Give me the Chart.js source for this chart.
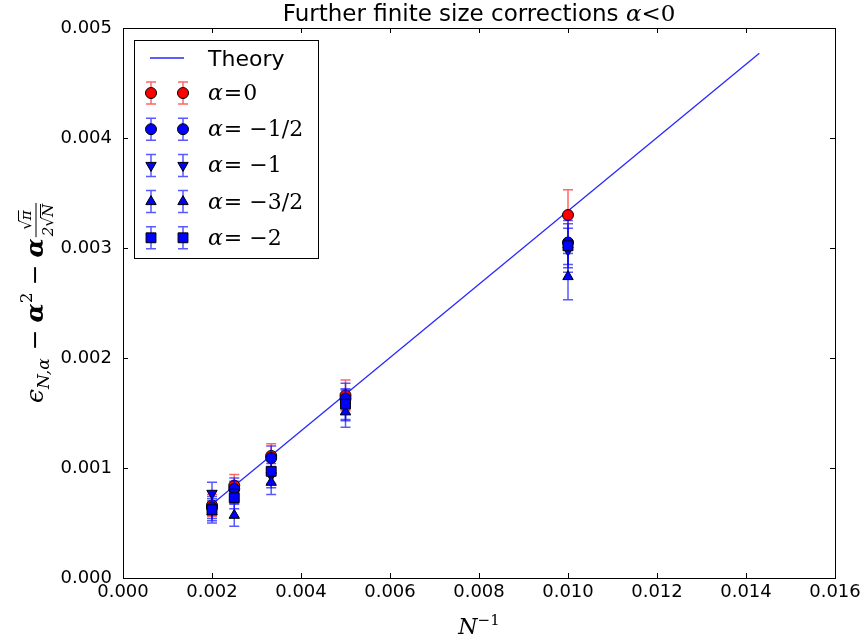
<!DOCTYPE html>
<html>
<head>
<meta charset="utf-8">
<script src="https://cdn.jsdelivr.net/npm/chart.js@4/dist/chart.umd.min.js"></script>
<style>
  html, body { margin: 0; background: #fff; }
  #wrap { width: 861px; height: 643px; }
</style>
</head>
<body>
<div id="wrap"><canvas id="chart"></canvas></div>
<script>
// inverse system size
const invN = [0.002, 0.0025, 0.00333, 0.005, 0.010];

// corrected energies and their error bars, one pair per alpha
const alpha0 = [0.00066, 0.00084, 0.00111, 0.00166, 0.00330];
const err0 = [0.00010, 0.00010, 0.00011, 0.00014, 0.00023];
const alphaHalf = [0.00064, 0.00081, 0.00109, 0.00163, 0.00305];
const errHalf = [0.00010, 0.00010, 0.00011, 0.00014, 0.00020];
const alphaOne = [0.00077, 0.00078, 0.00093, 0.00157, 0.00298];
const errOne = [0.00010, 0.00010, 0.00011, 0.00014, 0.00020];
const alphaThreeHalf = [0.00060, 0.00057, 0.00087, 0.00151, 0.00274];
const errThreeHalf = [0.00010, 0.00010, 0.00011, 0.00014, 0.00021];
const alphaTwo = [0.00062, 0.00073, 0.00097, 0.00158, 0.00302];
const errTwo = [0.00010, 0.00010, 0.00011, 0.00014, 0.00020];

// straight-line prediction
const theoryX = [0.002, 0.0143];
const theoryY = [0.00067, 0.00477];

const xTicks = [0, 0.002, 0.004, 0.006, 0.008, 0.010, 0.012, 0.014, 0.016];
const yTicks = [0, 0.001, 0.002, 0.003, 0.004, 0.005];

const RED = '#ff0000';
const BLUE = '#0000ff';
const SANS = "'DejaVu Sans'";
const SERIF = "'DejaVu Serif'";

function pts(ys) {
    return invN.map((x, i) => ({x: x, y: ys[i]}));
}

function markerRadius(style) {
    return style === 'rect' ? 7 : (style === 'triangle' ? 6 : 5.5);
}

function series(label, ys, errs, color, barColor, style, rotation, order) {
    return {
        label: label,
        data: pts(ys),
        errors: errs,
        errorColor: barColor,
        backgroundColor: color,
        borderColor: '#000',
        borderWidth: 1,
        pointStyle: style,
        pointRotation: rotation,
        pointRadius: markerRadius(style),
        pointHoverRadius: markerRadius(style),
        showLine: false,
        order: order
    };
}

const datasets = [
    {
        label: 'Theory',
        type: 'line',
        data: theoryX.map((x, i) => ({x: x, y: theoryY[i]})),
        borderColor: 'rgb(40,40,255)',
        borderWidth: 1.3,
        pointRadius: 0,
        fill: false,
        order: 10
    },
    series('α=0', alpha0, err0, RED, 'rgba(255,0,0,0.6)', 'circle', 0, 5),
    series('α=−1/2', alphaHalf, errHalf, BLUE, 'rgba(0,0,255,0.65)', 'circle', 0, 4),
    series('α=−1', alphaOne, errOne, BLUE, 'rgba(0,0,255,0.65)', 'triangle', 180, 3),
    series('α=−3/2', alphaThreeHalf, errThreeHalf, BLUE, 'rgba(0,0,255,0.65)', 'triangle', 0, 2),
    series('α=−2', alphaTwo, errTwo, BLUE, 'rgba(0,0,255,0.65)', 'rect', 0, 1)
];

// vertical error bars with caps, drawn under each series' markers
const errorBars = {
    id: 'errorBars',
    beforeDatasetDraw(chart, args) {
        const ds = chart.data.datasets[args.index];
        if (!ds.errors) return;
        const {ctx, scales: {x, y}} = chart;
        ctx.save();
        ctx.strokeStyle = ds.errorColor;
        ctx.lineWidth = 1.5;
        ds.data.forEach((p, i) => {
            const px = x.getPixelForValue(p.x);
            const top = y.getPixelForValue(p.y + ds.errors[i]);
            const bot = y.getPixelForValue(p.y - ds.errors[i]);
            ctx.beginPath();
            ctx.moveTo(px, top); ctx.lineTo(px, bot);
            ctx.moveTo(px - 5, top); ctx.lineTo(px + 5, top);
            ctx.moveTo(px - 5, bot); ctx.lineTo(px + 5, bot);
            ctx.stroke();
        });
        ctx.restore();
    }
};

// lay out a run of text pieces (plain, sub/superscript, fraction) centred on cx
function drawRun(ctx, pieces, cx, base) {
    let total = 0;
    pieces.forEach(p => {
        ctx.font = p.font;
        if (p.frac) {
            p.w = Math.max(ctx.measureText(p.num).width, ctx.measureText(p.den).width) + 2;
        } else {
            p.w = ctx.measureText(p.t).width;
        }
        total += p.w + (p.gap || 0);
    });
    let x = cx - total / 2;
    ctx.textBaseline = 'alphabetic';
    ctx.textAlign = 'left';
    pieces.forEach(p => {
        ctx.font = p.font;
        if (p.frac) {
            const mid = x + p.w / 2;
            const nw = ctx.measureText(p.num).width;
            const dw = ctx.measureText(p.den).width;
            ctx.fillText(p.num, mid - nw / 2, base - 12);
            ctx.fillText(p.den, mid - dw / 2, base + 10);
            ctx.fillRect(x, base - 7.5, p.w, 1);
            // radical overbars
            const rn = ctx.measureText('√').width;
            const nx = mid - nw / 2;
            ctx.fillRect(nx + rn - 1, base - 25, nw - rn + 1, 1);
            const two = ctx.measureText('2').width;
            const dx = mid - dw / 2 + two;
            ctx.fillRect(dx + rn - 1, base - 3, dw - two - rn + 1, 1);
        } else {
            ctx.fillText(p.t, x, base + (p.dy || 0));
        }
        x += p.w + (p.gap || 0);
    });
}

function drawMarker(ctx, style, rotation, color, barColor, x, y) {
    ctx.strokeStyle = barColor;
    ctx.lineWidth = 1.5;
    ctx.beginPath();
    ctx.moveTo(x, y - 11); ctx.lineTo(x, y + 11);
    ctx.moveTo(x - 5, y - 11); ctx.lineTo(x + 5, y - 11);
    ctx.moveTo(x - 5, y + 11); ctx.lineTo(x + 5, y + 11);
    ctx.stroke();
    ctx.fillStyle = color;
    ctx.strokeStyle = '#000';
    ctx.lineWidth = 1;
    Chart.helpers.drawPoint(ctx, {
        pointStyle: style, rotation: rotation,
        radius: markerRadius(style), borderWidth: 1
    }, x, y);
}

const decorations = {
    id: 'decorations',
    afterDatasetsDraw(chart) {
        const {ctx, chartArea: a, scales: {x, y}} = chart;
        ctx.save();
        // axes frame with inward ticks on all four sides
        ctx.strokeStyle = '#000';
        ctx.lineWidth = 1;
        ctx.strokeRect(a.left + 0.5, a.top + 0.5, a.right - a.left, a.bottom - a.top);
        ctx.beginPath();
        xTicks.forEach(v => {
            const px = Math.round(x.getPixelForValue(v)) + 0.5;
            ctx.moveTo(px, a.bottom); ctx.lineTo(px, a.bottom - 5);
            ctx.moveTo(px, a.top); ctx.lineTo(px, a.top + 5);
        });
        yTicks.forEach(v => {
            const py = Math.round(y.getPixelForValue(v)) + 0.5;
            ctx.moveTo(a.left, py); ctx.lineTo(a.left + 5, py);
            ctx.moveTo(a.right, py); ctx.lineTo(a.right - 5, py);
        });
        ctx.stroke();
        ctx.restore();
    },
    afterDraw(chart) {
        const {ctx, chartArea: a} = chart;
        ctx.save();
        ctx.fillStyle = '#000';

        // title
        drawRun(ctx, [
            {t: 'Further finite size corrections ', font: `23px ${SANS}`},
            {t: 'α', font: `italic 23px ${SERIF}`},
            {t: '<', font: `23px ${SERIF}`},
            {t: '0', font: `23px ${SERIF}`}
        ], (a.left + a.right) / 2, 21);

        // x-axis label
        drawRun(ctx, [
            {t: 'N', font: `italic 22px ${SERIF}`},
            {t: '−1', font: `15px ${SERIF}`, dy: -9}
        ], (a.left + a.right) / 2, 634);

        // y-axis label, rotated
        ctx.save();
        ctx.translate(35, (a.top + a.bottom) / 2);
        ctx.rotate(-Math.PI / 2);
        drawRun(ctx, [
            {t: 'ϵ', font: `italic 25px ${SERIF}`},
            {t: 'N,α', font: `italic 17px ${SERIF}`, dy: 6, gap: 8},
            {t: '−', font: `25px ${SERIF}`, gap: 7},
            {t: 'α', font: `italic bold 25px ${SERIF}`},
            {t: '2', font: `17px ${SERIF}`, dy: -11, gap: 7},
            {t: '−', font: `25px ${SERIF}`, gap: 7},
            {t: 'α', font: `italic bold 25px ${SERIF}`, gap: 1},
            {frac: true, num: '√π', den: '2√N', font: `italic 15px ${SERIF}`}
        ], 0, 8);
        ctx.restore();

        // legend
        const lx = 134, ly = 40, lw = 184, lh = 218;
        ctx.fillStyle = '#fff';
        ctx.fillRect(lx, ly, lw, lh);
        ctx.strokeStyle = '#000';
        ctx.lineWidth = 1;
        ctx.strokeRect(lx + 0.5, ly + 0.5, lw, lh);

        ctx.strokeStyle = 'rgb(40,40,255)';
        ctx.lineWidth = 1.3;
        ctx.beginPath();
        ctx.moveTo(150, 58); ctx.lineTo(184, 58);
        ctx.stroke();
        ctx.fillStyle = '#000';
        ctx.font = `22px ${SANS}`;
        ctx.textAlign = 'left';
        ctx.textBaseline = 'alphabetic';
        ctx.fillText('Theory', 208, 66);

        const rows = [
            {ds: datasets[1], rest: '0'},
            {ds: datasets[2], rest: '−1/2'},
            {ds: datasets[3], rest: '−1'},
            {ds: datasets[4], rest: '−3/2'},
            {ds: datasets[5], rest: '−2'}
        ];
        rows.forEach((r, i) => {
            const yy = 93 + i * 36.2;
            drawMarker(ctx, r.ds.pointStyle, r.ds.pointRotation, r.ds.backgroundColor, r.ds.errorColor, 151, yy);
            drawMarker(ctx, r.ds.pointStyle, r.ds.pointRotation, r.ds.backgroundColor, r.ds.errorColor, 183, yy);
            ctx.fillStyle = '#000';
            let tx = 208;
            ctx.font = `italic 22px ${SERIF}`;
            ctx.fillText('α', tx, yy + 7);
            tx += ctx.measureText('α').width + 1;
            ctx.font = `22px ${SERIF}`;
            ctx.fillText('=', tx, yy + 7);
            tx += ctx.measureText('=').width + (r.rest === '0' ? 1 : 7);
            ctx.fillText(r.rest, tx, yy + 7);
        });
        ctx.restore();
    }
};

const tickFont = {family: 'DejaVu Sans', size: 18};

new Chart(document.getElementById('chart'), {
    type: 'scatter',
    data: {datasets: datasets},
    options: {
        responsive: true,
        maintainAspectRatio: false,
        animation: false,
        layout: {padding: {top: 28, right: 26, left: 0, bottom: 0}},
        plugins: {
            legend: {display: false},
            title: {display: false},
            tooltip: {enabled: false}
        },
        scales: {
            x: {
                type: 'linear',
                min: 0,
                max: 0.016,
                afterBuildTicks: s => { s.ticks = xTicks.map(v => ({value: v})); },
                afterFit: s => { s.height = 65; s.paddingLeft = 0; s.paddingRight = 0; },
                ticks: {
                    font: tickFont,
                    color: '#000',
                    padding: 4,
                    maxRotation: 0,
                    callback: v => v.toFixed(3)
                },
                grid: {display: false, drawTicks: false},
                border: {display: false}
            },
            y: {
                min: 0,
                max: 0.005,
                afterBuildTicks: s => { s.ticks = yTicks.map(v => ({value: v})); },
                afterFit: s => { s.width = 123; s.paddingTop = 0; s.paddingBottom = 0; },
                ticks: {
                    font: tickFont,
                    color: '#000',
                    padding: 11,
                    callback: v => v.toFixed(3)
                },
                grid: {display: false, drawTicks: false},
                border: {display: false}
            }
        }
    },
    plugins: [errorBars, decorations]
});
</script>
</body>
</html>
